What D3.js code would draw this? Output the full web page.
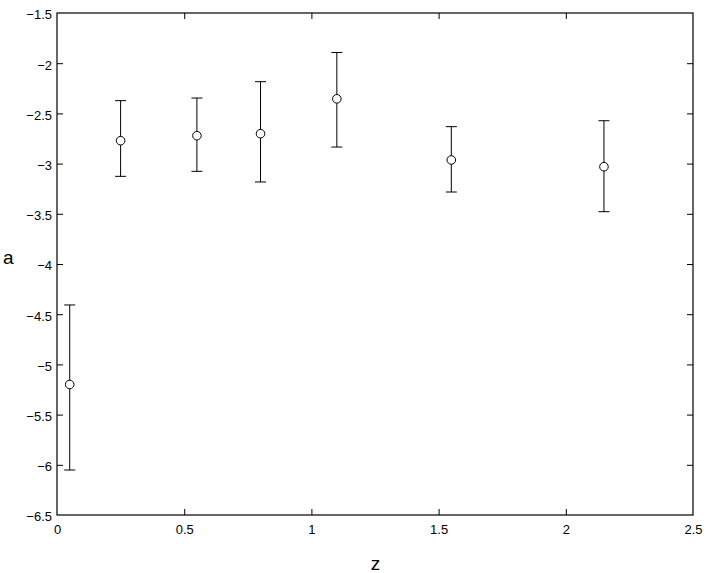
<!DOCTYPE html>
<html>
<head>
<meta charset="utf-8">
<script src="https://cdn.jsdelivr.net/npm/d3@7"></script>
<style>
  html, body { margin: 0; padding: 0; background: #fff; }
  svg { display: block; }
  text { font-family: "Liberation Sans", Arial, Helvetica, sans-serif; fill: #000; }
</style>
</head>
<body>
<svg id="chart" width="708" height="573"></svg>
<script>
// ---- data ----
const zValues   = [0.05, 0.25, 0.55, 0.80, 1.10, 1.55, 2.15];
const aValues   = [-5.20, -2.772, -2.722, -2.702, -2.355, -2.964, -3.031];
const aUpper    = [-4.408, -2.373, -2.347, -2.184, -1.893, -2.632, -2.573];
const aLower    = [-6.052, -3.127, -3.077, -3.183, -2.835, -3.283, -3.479];
const xTicks    = [0, 0.5, 1, 1.5, 2, 2.5];
const yTicks    = [-6.5, -6, -5.5, -5, -4.5, -4, -3.5, -3, -2.5, -2, -1.5];
const xLabel    = "z";
const yLabel    = "a";

(function () {
const svg = d3.select("#chart");
const L = 57, R = 693, T = 13, B = 515;
const x = d3.scaleLinear().domain([0, 2.5]).range([L, R]);
const y = d3.scaleLinear().domain([-6.5, -1.5]).range([B, T]);
const fmt = v => String(v).replace("-", "\u2212");
const tickLen = 6;

const axBottom = svg.append("g").attr("transform", `translate(0,${B})`)
  .call(d3.axisBottom(x).tickValues(xTicks).tickSize(-tickLen).tickPadding(10).tickFormat(fmt));
const axTop = svg.append("g").attr("transform", `translate(0,${T})`)
  .call(d3.axisTop(x).tickValues(xTicks).tickSize(-tickLen).tickFormat(""));
const axLeft = svg.append("g").attr("transform", `translate(${L},0)`)
  .call(d3.axisLeft(y).tickValues(yTicks).tickSize(-tickLen).tickPadding(5).tickFormat(fmt));
const axRight = svg.append("g").attr("transform", `translate(${R},0)`)
  .call(d3.axisRight(y).tickValues(yTicks).tickSize(-tickLen).tickFormat(""));

[axBottom, axTop, axLeft, axRight].forEach(g => {
  g.select(".domain").remove();
  g.selectAll(".tick line").attr("stroke", "#000").attr("stroke-width", 1);
  g.selectAll(".tick text").attr("font-size", 13).attr("fill", "#000")
    .attr("font-family", "Liberation Sans, Arial, sans-serif");
});
axBottom.selectAll(".tick line").filter(d => d === 0 || d === 2.5).remove();
axTop.selectAll(".tick line").filter(d => d === 0 || d === 2.5).remove();
axLeft.selectAll(".tick line").filter(d => d === -6.5 || d === -1.5).remove();
axRight.selectAll(".tick line").filter(d => d === -6.5 || d === -1.5).remove();
axLeft.selectAll(".tick text").attr("dy", "0.45em");

svg.append("rect").attr("x", L).attr("y", T).attr("width", R - L).attr("height", B - T)
  .attr("fill", "none").attr("stroke", "#000").attr("stroke-width", 1.2);

const data = zValues.map((z, i) => ({ z, a: aValues[i], hi: aUpper[i], lo: aLower[i] }));
const capW = 5.5;
const g = svg.append("g").attr("stroke", "#000").attr("stroke-width", 1).attr("fill", "none");
g.selectAll("line.err").data(data).join("line").attr("class", "err")
  .attr("x1", d => x(d.z)).attr("x2", d => x(d.z))
  .attr("y1", d => y(d.hi)).attr("y2", d => y(d.lo));
g.selectAll("line.capt").data(data).join("line").attr("class", "capt")
  .attr("x1", d => x(d.z) - capW).attr("x2", d => x(d.z) + capW)
  .attr("y1", d => y(d.hi)).attr("y2", d => y(d.hi));
g.selectAll("line.capb").data(data).join("line").attr("class", "capb")
  .attr("x1", d => x(d.z) - capW).attr("x2", d => x(d.z) + capW)
  .attr("y1", d => y(d.lo)).attr("y2", d => y(d.lo));
g.selectAll("circle").data(data).join("circle")
  .attr("cx", d => x(d.z)).attr("cy", d => y(d.a)).attr("r", 4.3)
  .attr("fill", "#fff");

svg.append("text").attr("x", (L + R) / 2 + 0.5).attr("y", 570).attr("text-anchor", "middle")
  .attr("font-size", 19).text(xLabel);
svg.append("text").attr("x", 3).attr("y", 264)
  .attr("font-size", 19).text(yLabel);
})();
</script>
</body>
</html>
